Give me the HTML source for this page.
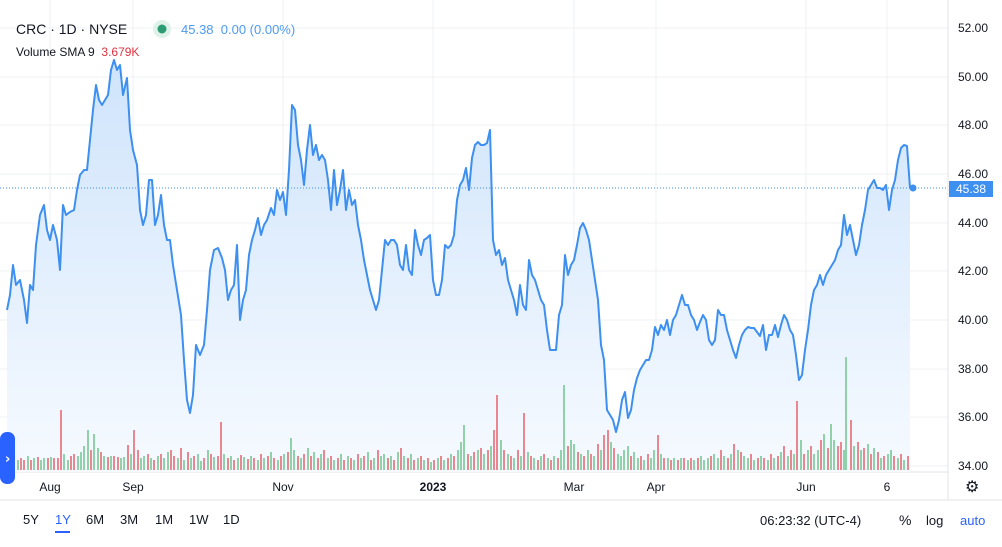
<!DOCTYPE html>
<html><head><meta charset="utf-8"><style>
body{margin:0;width:1002px;height:547px;background:#fff;font-family:"Liberation Sans",sans-serif;overflow:hidden;position:relative}
.t{position:absolute;font-size:12px;color:#131722}
</style></head><body>
<svg width="1002" height="547" style="position:absolute;left:0;top:0" xmlns="http://www.w3.org/2000/svg">
<defs><linearGradient id="g" x1="0" y1="0" x2="0" y2="1"><stop offset="0" stop-color="#cfe4fb"/><stop offset="1" stop-color="#f6faff"/></linearGradient></defs>
<g stroke="#eef0f3" stroke-width="1">
<line x1="50" y1="0" x2="50" y2="472"/><line x1="133" y1="0" x2="133" y2="472"/><line x1="283" y1="0" x2="283" y2="472"/><line x1="433" y1="0" x2="433" y2="472"/><line x1="574" y1="0" x2="574" y2="472"/><line x1="656" y1="0" x2="656" y2="472"/><line x1="806" y1="0" x2="806" y2="472"/><line x1="887" y1="0" x2="887" y2="472"/>
<line x1="0" y1="28" x2="948" y2="28"/><line x1="0" y1="77" x2="948" y2="77"/><line x1="0" y1="125" x2="948" y2="125"/><line x1="0" y1="174" x2="948" y2="174"/><line x1="0" y1="223" x2="948" y2="223"/><line x1="0" y1="271" x2="948" y2="271"/><line x1="0" y1="320" x2="948" y2="320"/><line x1="0" y1="369" x2="948" y2="369"/><line x1="0" y1="417" x2="948" y2="417"/><line x1="0" y1="466" x2="948" y2="466"/>
</g>
<line x1="948" y1="0" x2="948" y2="500" stroke="#e0e3eb"/>
<line x1="0" y1="472" x2="948" y2="472" stroke="#e0e3eb"/>
<line x1="0" y1="500" x2="1002" y2="500" stroke="#e0e3eb"/>
<polygon fill="url(#g)" points="7,472 7,310 10,295 13,265 16,285 20,280 24,300 27,323 30,285 33,290 36,245 40,215 44,205 47,230 50,240 53,225 57,240 60,270 63,205 66,215 70,212 74,210 77,190 80,175 84,170 87,170 90,140 93,110 96,85 99,100 102,105 105,100 108,95 111,70 114,60 117,70 120,65 123,95 127,78 130,130 133,150 137,165 140,210 143,225 146,215 149,180 152,180 155,225 158,215 161,195 164,225 167,240 170,240 173,265 177,290 181,315 184,360 187,400 190,413 193,395 196,345 200,355 204,345 207,310 210,270 214,250 218,248 222,258 225,270 228,300 231,290 234,285 237,245 240,320 243,300 246,290 249,255 252,240 255,230 258,218 261,235 264,225 267,220 271,208 274,215 277,190 280,200 283,192 286,215 289,170 292,105 295,110 298,145 301,160 304,185 307,150 310,125 313,155 316,145 319,160 322,155 325,160 328,180 331,210 334,170 337,205 340,190 343,170 346,210 349,190 352,205 355,200 358,225 361,240 364,260 367,275 370,290 373,300 376,310 379,300 382,270 385,240 388,245 391,240 394,240 397,245 400,265 403,270 406,245 409,270 412,275 415,230 418,245 421,255 424,240 427,238 430,235 433,280 436,295 439,295 442,280 445,245 448,248 451,245 454,235 457,200 460,185 463,180 466,168 469,190 472,158 475,145 478,142 481,145 484,145 487,143 490,130 493,240 496,255 499,250 502,265 505,258 508,280 511,290 514,300 517,315 520,285 523,305 526,310 529,260 532,275 535,280 538,290 541,300 544,305 547,330 550,350 553,350 556,350 559,315 562,305 565,255 568,275 571,265 574,260 577,245 580,228 583,223 586,230 589,240 592,260 595,280 598,300 601,345 604,360 607,410 610,415 613,420 616,432 619,420 622,400 625,392 628,418 631,410 634,390 637,378 640,370 643,365 646,360 649,360 652,350 655,327 658,335 661,325 664,330 667,320 670,335 673,320 676,315 679,305 682,295 685,305 688,305 691,315 694,320 697,330 700,322 703,315 706,320 709,340 712,345 715,340 718,310 721,315 724,315 727,330 730,340 733,350 736,358 739,345 742,335 745,330 748,327 751,328 754,328 757,332 760,336 763,325 766,350 769,335 772,335 775,325 778,337 781,325 784,315 787,320 790,330 793,335 796,355 799,380 802,375 805,350 808,330 811,305 814,290 817,285 820,275 823,285 826,275 829,270 832,265 835,260 838,250 841,245 844,215 847,235 850,225 853,240 856,255 859,245 862,225 865,210 868,190 871,185 874,180 877,188 880,188 883,190 886,185 889,210 892,190 895,180 898,160 901,148 904,145 907,146 910,188 910,472"/>
<path stroke="#8fd1a8" stroke-width="2" fill="none" d="M8 470v-16M14 470v-12M18 470v-10M28 470v-14M34 470v-12M41 470v-10M44 470v-12M51 470v-13M64 470v-16M68 470v-10M78 470v-14M81 470v-18M84 470v-24M88 470v-40M94 470v-36M98 470v-22M104 470v-14M111 470v-14M121 470v-12M124 470v-13M131 470v-16M141 470v-12M144 470v-14M151 470v-12M158 470v-14M164 470v-12M168 470v-18M178 470v-12M184 470v-10M191 470v-12M198 470v-16M201 470v-9M208 470v-20M214 470v-13M224 470v-16M231 470v-14M238 470v-12M244 470v-13M251 470v-14M258 470v-10M264 470v-12M271 470v-18M278 470v-10M284 470v-16M291 470v-32M294 470v-20M301 470v-12M308 470v-22M314 470v-18M321 470v-16M328 470v-12M334 470v-10M341 470v-16M348 470v-14M354 470v-10M361 470v-12M368 470v-18M374 470v-12M381 470v-14M384 470v-16M391 470v-14M398 470v-18M404 470v-14M411 470v-16M418 470v-12M424 470v-10M431 470v-8M438 470v-12M444 470v-10M451 470v-16M458 470v-20M461 470v-28M464 470v-45M471 470v-14M478 470v-20M484 470v-16M491 470v-24M501 470v-30M508 470v-16M514 470v-12M521 470v-14M528 470v-18M534 470v-12M541 470v-14M548 470v-12M554 470v-14M561 470v-20M564 470v-85M571 470v-30M574 470v-26M581 470v-16M588 470v-20M594 470v-14M601 470v-20M611 470v-28M618 470v-16M621 470v-14M624 470v-20M628 470v-24M634 470v-18M638 470v-12M644 470v-10M651 470v-12M654 470v-20M661 470v-16M668 470v-12M674 470v-12M681 470v-12M688 470v-10M694 470v-10M701 470v-14M704 470v-10M708 470v-12M714 470v-16M718 470v-12M724 470v-14M731 470v-16M738 470v-20M744 470v-14M748 470v-12M754 470v-10M761 470v-14M768 470v-10M774 470v-12M781 470v-18M788 470v-14M794 470v-16M801 470v-30M808 470v-20M814 470v-16M818 470v-20M824 470v-36M831 470v-46M834 470v-30M844 470v-20M846 470v-113M854 470v-24M861 470v-20M868 470v-26M874 470v-22M881 470v-12M888 470v-16M891 470v-20M898 470v-12M904 470v-10"/>
<path stroke="#e9868f" stroke-width="2" fill="none" d="M11 470v-12M21 470v-12M24 470v-10M31 470v-10M38 470v-13M48 470v-12M54 470v-12M58 470v-12M61 470v-60M71 470v-14M74 470v-16M91 470v-20M101 470v-18M108 470v-13M114 470v-14M118 470v-13M128 470v-25M134 470v-40M138 470v-20M148 470v-16M154 470v-10M161 470v-16M171 470v-20M174 470v-14M181 470v-22M188 470v-18M194 470v-14M204 470v-12M211 470v-16M218 470v-14M221 470v-48M228 470v-12M234 470v-10M241 470v-15M248 470v-11M254 470v-12M261 470v-16M268 470v-14M274 470v-12M281 470v-14M288 470v-18M298 470v-14M304 470v-16M311 470v-14M318 470v-12M324 470v-20M331 470v-14M338 470v-12M344 470v-10M351 470v-12M358 470v-16M364 470v-14M371 470v-10M378 470v-20M388 470v-12M394 470v-10M401 470v-22M408 470v-12M414 470v-10M421 470v-14M428 470v-12M434 470v-10M441 470v-14M448 470v-12M454 470v-14M468 470v-16M474 470v-18M481 470v-22M488 470v-20M494 470v-40M497 470v-75M504 470v-20M511 470v-14M518 470v-20M524 470v-57M531 470v-14M538 470v-10M544 470v-16M551 470v-10M558 470v-12M568 470v-24M578 470v-18M584 470v-14M591 470v-16M598 470v-26M604 470v-35M608 470v-40M614 470v-22M631 470v-14M641 470v-14M648 470v-16M658 470v-35M664 470v-12M671 470v-10M678 470v-10M684 470v-12M691 470v-12M698 470v-12M711 470v-14M721 470v-20M728 470v-12M734 470v-26M741 470v-18M751 470v-16M758 470v-12M764 470v-12M771 470v-16M778 470v-14M784 470v-24M791 470v-20M797 470v-69M804 470v-16M811 470v-24M821 470v-30M828 470v-22M838 470v-24M841 470v-28M851 470v-50M858 470v-28M864 470v-22M871 470v-16M878 470v-18M884 470v-14M894 470v-14M901 470v-16M908 470v-14"/>
<polyline fill="none" stroke="#3d8ff0" stroke-width="2" stroke-linejoin="round" points="7,310 10,295 13,265 16,285 20,280 24,300 27,323 30,285 33,290 36,245 40,215 44,205 47,230 50,240 53,225 57,240 60,270 63,205 66,215 70,212 74,210 77,190 80,175 84,170 87,170 90,140 93,110 96,85 99,100 102,105 105,100 108,95 111,70 114,60 117,70 120,65 123,95 127,78 130,130 133,150 137,165 140,210 143,225 146,215 149,180 152,180 155,225 158,215 161,195 164,225 167,240 170,240 173,265 177,290 181,315 184,360 187,400 190,413 193,395 196,345 200,355 204,345 207,310 210,270 214,250 218,248 222,258 225,270 228,300 231,290 234,285 237,245 240,320 243,300 246,290 249,255 252,240 255,230 258,218 261,235 264,225 267,220 271,208 274,215 277,190 280,200 283,192 286,215 289,170 292,105 295,110 298,145 301,160 304,185 307,150 310,125 313,155 316,145 319,160 322,155 325,160 328,180 331,210 334,170 337,205 340,190 343,170 346,210 349,190 352,205 355,200 358,225 361,240 364,260 367,275 370,290 373,300 376,310 379,300 382,270 385,240 388,245 391,240 394,240 397,245 400,265 403,270 406,245 409,270 412,275 415,230 418,245 421,255 424,240 427,238 430,235 433,280 436,295 439,295 442,280 445,245 448,248 451,245 454,235 457,200 460,185 463,180 466,168 469,190 472,158 475,145 478,142 481,145 484,145 487,143 490,130 493,240 496,255 499,250 502,265 505,258 508,280 511,290 514,300 517,315 520,285 523,305 526,310 529,260 532,275 535,280 538,290 541,300 544,305 547,330 550,350 553,350 556,350 559,315 562,305 565,255 568,275 571,265 574,260 577,245 580,228 583,223 586,230 589,240 592,260 595,280 598,300 601,345 604,360 607,410 610,415 613,420 616,432 619,420 622,400 625,392 628,418 631,410 634,390 637,378 640,370 643,365 646,360 649,360 652,350 655,327 658,335 661,325 664,330 667,320 670,335 673,320 676,315 679,305 682,295 685,305 688,305 691,315 694,320 697,330 700,322 703,315 706,320 709,340 712,345 715,340 718,310 721,315 724,315 727,330 730,340 733,350 736,358 739,345 742,335 745,330 748,327 751,328 754,328 757,332 760,336 763,325 766,350 769,335 772,335 775,325 778,337 781,325 784,315 787,320 790,330 793,335 796,355 799,380 802,375 805,350 808,330 811,305 814,290 817,285 820,275 823,285 826,275 829,270 832,265 835,260 838,250 841,245 844,215 847,235 850,225 853,240 856,255 859,245 862,225 865,210 868,190 871,185 874,180 877,188 880,188 883,190 886,185 889,210 892,190 895,180 898,160 901,148 904,145 907,146 910,188"/>
<line x1="0" y1="188" x2="948" y2="188" stroke="#3d8ff0" stroke-dasharray="1 2"/>
<circle cx="913" cy="188" r="3.5" fill="#3d8ff0"/>
<rect x="949" y="181" width="44" height="16" fill="#3d8ff0"/>
<text x="971" y="193" fill="#fff" font-size="12" text-anchor="middle" font-family="Liberation Sans">45.38</text>
<g font-size="12" fill="#131722" font-family="Liberation Sans" text-anchor="start">
<text x="958" y="32">52.00</text><text x="958" y="81">50.00</text><text x="958" y="129">48.00</text><text x="958" y="178">46.00</text><text x="958" y="227">44.00</text><text x="958" y="275">42.00</text><text x="958" y="324">40.00</text><text x="958" y="373">38.00</text><text x="958" y="421">36.00</text><text x="958" y="470">34.00</text>
</g>
<g font-size="12" fill="#131722" font-family="Liberation Sans" text-anchor="middle">
<text x="50" y="491">Aug</text><text x="133" y="491">Sep</text><text x="283" y="491">Nov</text><text x="433" y="491" font-weight="bold">2023</text><text x="574" y="491">Mar</text><text x="656" y="491">Apr</text><text x="806" y="491">Jun</text><text x="887" y="491">6</text>
</g>
<circle cx="162" cy="29" r="9" fill="#dff2ea"/><circle cx="162" cy="29" r="4.5" fill="#2e9c73"/>
<rect x="0" y="432" width="15" height="52" rx="7" fill="#2962ff"/>
<text x="5" y="463" fill="#fff" font-size="13" font-weight="bold" font-family="DejaVu Sans">›</text>
<rect x="55" y="531" width="15" height="2" fill="#2962ff"/>
</svg>
<div class="t" style="left:16px;top:21px;font-size:14px">CRC · 1D · NYSE</div>
<div class="t" style="left:181px;top:22px;font-size:13px;color:#4d9bf0">45.38&nbsp; 0.00 (0.00%)</div>
<div class="t" style="left:16px;top:45px;font-size:12px">Volume SMA 9&nbsp; <span style="color:#e0323f">3.679K</span></div>
<div class="t" style="left:23px;top:512px;font-size:13px">5Y</div>
<div class="t" style="left:55px;top:512px;font-size:13px;color:#2962ff">1Y</div>
<div class="t" style="left:86px;top:512px;font-size:13px">6M</div>
<div class="t" style="left:120px;top:512px;font-size:13px">3M</div>
<div class="t" style="left:155px;top:512px;font-size:13px">1M</div>
<div class="t" style="left:189px;top:512px;font-size:13px">1W</div>
<div class="t" style="left:223px;top:512px;font-size:13px">1D</div>
<div class="t" style="left:760px;top:513px;font-size:13px">06:23:32 (UTC-4)</div>
<div class="t" style="left:899px;top:512px;font-size:14px">%</div>
<div class="t" style="left:926px;top:513px;font-size:13px">log</div>
<div class="t" style="left:960px;top:513px;font-size:13px;color:#2962ff">auto</div>
<div class="t" style="left:965px;top:477px;font-size:16px">⚙</div>
</body></html>
